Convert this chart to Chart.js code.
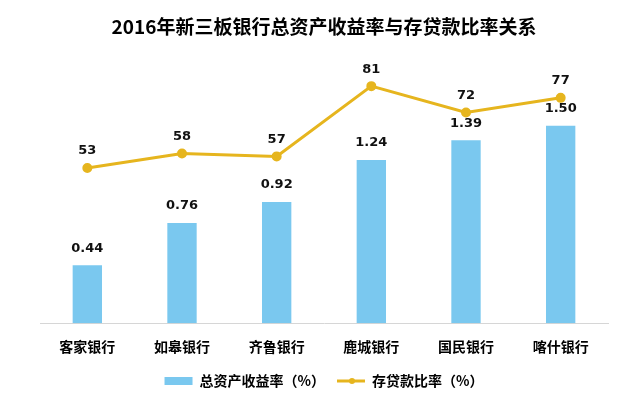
<!DOCTYPE html>
<html>
<head>
<meta charset="utf-8">
<script src="https://cdn.jsdelivr.net/npm/chart.js@4"></script>
<style>
  html, body { margin: 0; padding: 0; background: #fff; }
  #wrap { width: 640px; height: 398px; }
</style>
</head>
<body>
<div id="wrap"><canvas id="bankChart"></canvas></div>
<script>
const banks = ['客家银行', '如皋银行', '齐鲁银行', '鹿城银行', '国民银行', '喀什银行'];
const roaValues = [0.44, 0.76, 0.92, 1.24, 1.39, 1.50];
const loanRatioValues = [53, 58, 57, 81, 72, 77];
const roaLabels = ['0.44', '0.76', '0.92', '1.24', '1.39', '1.50'];

const CJK = '"Noto Sans CJK SC", "Noto Sans", sans-serif';
const BLUE = '#7ac8ef';
const GOLD = '#e6b51e';

// value labels above bars and points
const valueLabels = {
    id: 'valueLabels',
    afterDatasetsDraw(chart) {
        const ctx = chart.ctx;
        ctx.save();
        ctx.font = 'bold 13px "DejaVu Sans", sans-serif';
        ctx.fillStyle = '#111';
        ctx.textAlign = 'center';
        ctx.textBaseline = 'middle';
        chart.getDatasetMeta(0).data.forEach(function(el, i) {
            ctx.fillText(roaLabels[i], el.x, el.y - 17);
        });
        chart.getDatasetMeta(1).data.forEach(function(el, i) {
            ctx.fillText(String(loanRatioValues[i]), el.x, el.y - 17);
        });
        ctx.restore();
    }
};

// dot in the middle of the line legend marker
const legendDot = {
    id: 'legendDot',
    afterDraw(chart) {
        const boxes = chart.legend && chart.legend.legendHitBoxes;
        if (!boxes || boxes.length < 2) return;
        const b = boxes[1];
        const ctx = chart.ctx;
        ctx.save();
        ctx.fillStyle = GOLD;
        ctx.beginPath();
        ctx.arc(b.left + 15, b.top + b.height / 2, 3, 0, Math.PI * 2);
        ctx.fill();
        ctx.restore();
    }
};

document.addEventListener('DOMContentLoaded', function() {
    const ctx = document.getElementById('bankChart').getContext('2d');
    new Chart(ctx, {
        data: {
            labels: banks,
            datasets: [{
                type: 'bar',
                label: '总资产收益率（%）',
                data: roaValues,
                backgroundColor: BLUE,
                barPercentage: 0.31,
                categoryPercentage: 1.0,
                yAxisID: 'yRoa',
                order: 2
            }, {
                type: 'line',
                label: '存贷款比率（%）',
                data: loanRatioValues,
                borderColor: GOLD,
                backgroundColor: GOLD,
                borderWidth: 3,
                pointRadius: 3.5,
                pointHoverRadius: 3.5,
                tension: 0,
                yAxisID: 'yRatio',
                order: 1
            }]
        },
        options: {
            responsive: true,
            maintainAspectRatio: false,
            animation: false,
            layout: {
                padding: { left: 40, right: 32, top: 0, bottom: 0 }
            },
            scales: {
                x: {
                    grid: { display: false },
                    border: { display: true, color: '#d6d6d6', width: 1 },
                    ticks: {
                        color: '#000',
                        padding: 7,
                        font: { family: CJK, size: 14, weight: 'bold' }
                    }
                },
                yRoa: {
                    display: false,
                    min: 0,
                    max: 2.0
                },
                yRatio: {
                    display: false,
                    min: 0,
                    max: 90
                }
            },
            plugins: {
                title: {
                    display: true,
                    text: '2016年新三板银行总资产收益率与存贷款比率关系',
                    color: '#000',
                    font: { family: CJK, size: 19, weight: 'bold' },
                    padding: { top: 15, bottom: 22 }
                },
                legend: {
                    position: 'bottom',
                    labels: {
                        usePointStyle: true,
                        pointStyleWidth: 28,
                        boxHeight: 8,
                        padding: 12,
                        color: '#000',
                        font: { family: CJK, size: 14, weight: 'bold' },
                        sort: function(a, b) { return a.datasetIndex - b.datasetIndex; },
                        generateLabels: function(chart) {
                            const items = Chart.defaults.plugins.legend.labels.generateLabels(chart);
                            items.forEach(function(item) {
                                if (item.datasetIndex === 0) {
                                    item.pointStyle = 'rect';
                                    item.lineWidth = 0;
                                } else {
                                    item.pointStyle = 'line';
                                    item.lineWidth = 3;
                                    item.strokeStyle = GOLD;
                                }
                            });
                            return items;
                        }
                    }
                },
                tooltip: { enabled: false }
            }
        },
        plugins: [valueLabels, legendDot]
    });
});
</script>
</body>
</html>
